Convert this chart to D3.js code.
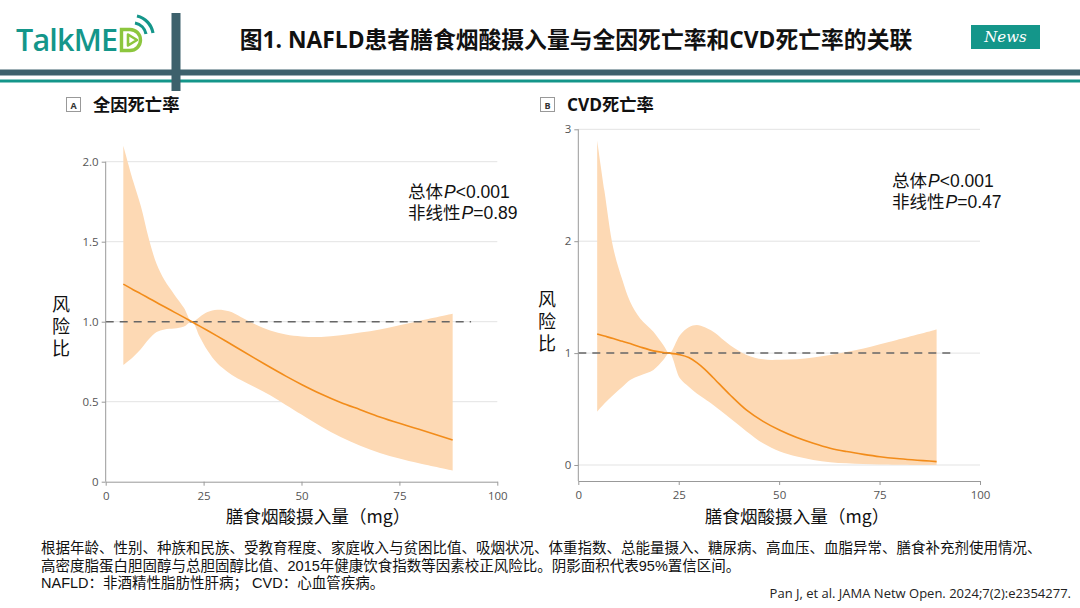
<!DOCTYPE html>
<html><head><meta charset="utf-8">
<script src="https://cdn.jsdelivr.net/npm/d3@7"></script>
<style>
html,body{margin:0;padding:0;background:#fff;}
svg{display:block;font-family:"Open Sans","Noto Sans CJK SC",sans-serif;}
</style></head>
<body>
<svg id="c" width="1080" height="608"></svg>
<script>
// ---------- data ----------
const titleText = "图1. NAFLD患者膳食烟酸摄入量与全因死亡率和CVD死亡率的关联";
const panelTitles = ["全因死亡率", "CVD死亡率"];
const panelLetters = ["A", "B"];
const xTicks = [0, 25, 50, 75, 100];
const yTicksA = [0, 0.5, 1.0, 1.5, 2.0];
const yTickLabelsA = ["0", "0.5", "1.0", "1.5", "2.0"];
const yTicksB = [0, 1, 2, 3];
const yTickLabelsB = ["0", "1", "2", "3"];
const pTextA = ["<0.001", "=0.89"];
const pTextB = ["<0.001", "=0.47"];

const xA  = [4.5, 7, 9, 11, 13, 15, 17.5, 20, 22, 24, 26, 28.5, 31.5, 34.5, 38, 42, 46, 50, 55, 60, 65, 70, 75, 80, 88.6];
const hrA = [1.235, 1.20, 1.174, 1.147, 1.12, 1.093, 1.06, 1.027, 1.0, 0.972, 0.945, 0.91, 0.867, 0.823, 0.772, 0.715, 0.66, 0.608, 0.548, 0.495, 0.45, 0.405, 0.365, 0.328, 0.26];
const hiA = [2.10, 1.88, 1.72, 1.52, 1.36, 1.26, 1.17, 1.085, 1.0, 1.03, 1.06, 1.075, 1.065, 1.03, 0.985, 0.945, 0.92, 0.908, 0.905, 0.915, 0.932, 0.952, 0.978, 1.005, 1.05];
const loA = [0.73, 0.78, 0.83, 0.89, 0.935, 0.952, 0.957, 0.97, 1.0, 0.906, 0.82, 0.74, 0.68, 0.635, 0.592, 0.54, 0.48, 0.42, 0.345, 0.28, 0.225, 0.18, 0.145, 0.115, 0.07];

const xB  = [4.7, 6.5, 8.7, 11, 12.9, 15.4, 18.7, 21.2, 22.7, 25.3, 27.5, 29.5, 31.5, 33.6, 37.8, 41.9, 46, 50.2, 54.4, 58.5, 62.7, 66.8, 71, 75.1, 79.3, 89.2];
const hrB = [1.17, 1.152, 1.13, 1.105, 1.085, 1.055, 1.02, 1.005, 1.0, 0.985, 0.96, 0.915, 0.855, 0.78, 0.626, 0.49, 0.39, 0.31, 0.245, 0.194, 0.15, 0.12, 0.095, 0.074, 0.058, 0.03];
const hiB = [2.90, 2.45, 1.94, 1.65, 1.46, 1.31, 1.19, 1.07, 1.0, 1.16, 1.23, 1.25, 1.23, 1.19, 1.07, 0.983, 0.944, 0.94, 0.944, 0.96, 0.983, 1.01, 1.04, 1.08, 1.117, 1.21];
const loB = [0.477, 0.55, 0.626, 0.70, 0.76, 0.80, 0.85, 0.94, 1.0, 0.775, 0.70, 0.64, 0.59, 0.536, 0.417, 0.30, 0.194, 0.12, 0.075, 0.045, 0.025, 0.015, 0.008, 0.005, 0.003, 0.0];

const footLines = [
  "根据年龄、性别、种族和民族、受教育程度、家庭收入与贫困比值、吸烟状况、体重指数、总能量摄入、糖尿病、高血压、血脂异常、膳食补充剂使用情况、",
  "高密度脂蛋白胆固醇与总胆固醇比值、2015年健康饮食指数等因素校正风险比。阴影面积代表95%置信区间。",
  "NAFLD：非酒精性脂肪性肝病；  CVD：心血管疾病。"
];
const refText = "Pan J, et al. JAMA Netw Open. 2024;7(2):e2354277.";

// ---------- drawing ----------
const svg = d3.select("#c");
const CJK = "'Noto Sans CJK SC','Open Sans',sans-serif";
const TIGHT = "'Liberation Sans','Noto Sans CJK SC',sans-serif";

// header bars
svg.append("rect").attr("x",0).attr("y",69.5).attr("width",1080).attr("height",6).attr("fill","#3d616c");
svg.append("rect").attr("x",0).attr("y",79.5).attr("width",1080).attr("height",3).attr("fill","#14968a");
svg.append("rect").attr("x",171.5).attr("y",13).attr("width",9).attr("height",78).attr("fill","#3d616c");

// logo
svg.append("text").attr("x",16).attr("y",51).attr("font-size",30.5).attr("font-weight",600)
  .attr("fill","#14968a").attr("font-family","'Open Sans','Noto Sans',sans-serif").attr("letter-spacing",-0.8)
  .text("TalkME");
const lg = svg.append("g").attr("transform","translate(120,28)");
lg.append("path").attr("d","M1.5,1.5 L10,1.5 A10.5,10.5 0 0 1 10,22.5 L1.5,22.5 Z")
  .attr("fill","none").attr("stroke","#8cc63e").attr("stroke-width",3.4);
lg.append("path").attr("d","M8,6.5 L17,12 L8,17.5 Z").attr("fill","none").attr("stroke","#8cc63e").attr("stroke-width",2.6).attr("stroke-linejoin","round");
lg.append("path").attr("d","M15,-5 A14,14 0 0 1 26,6").attr("fill","none").attr("stroke","#14968a").attr("stroke-width",3.2);
lg.append("path").attr("d","M17,-12 A21,21 0 0 1 33,5").attr("fill","none").attr("stroke","#14968a").attr("stroke-width",3.2);

// title
svg.append("text").attr("x",576).attr("y",48).attr("text-anchor","middle").attr("font-size",22.8)
  .attr("font-weight",700).attr("fill","#111").attr("font-family","'Open Sans','Noto Sans CJK SC',sans-serif")
  .text(titleText);

// News badge
svg.append("rect").attr("x",971).attr("y",25).attr("width",69).attr("height",24).attr("fill","#14968a");
svg.append("text").attr("x",1005.5).attr("y",42).attr("text-anchor","middle").attr("font-size",15)
  .attr("font-style","italic").attr("fill","#fff").attr("font-family","'DejaVu Serif',serif").text("News");

function panel(cfg){
  const g = svg.append("g");
  const x = d3.scaleLinear().domain([0,100]).range(cfg.xr);
  const y = d3.scaleLinear().domain(cfg.yd).range(cfg.yr);
  const yTop = y(cfg.yTicks[cfg.yTicks.length-1]);

  // gridlines
  g.selectAll(".grid").data(cfg.yTicks.filter(v => y(v) < cfg.yr[0]-1)).join("line")
    .attr("x1",cfg.xr[0]).attr("x2",cfg.xr[1]).attr("y1",d=>y(d)).attr("y2",d=>y(d))
    .attr("stroke","#e3e3e3").attr("stroke-width",1);

  const curve = d3.curveCatmullRom.alpha(0.5);
  const data = cfg.xs.map((v,i)=>({x:v, hr:cfg.hr[i], lo:cfg.lo[i], hi:cfg.hi[i]}));
  g.append("path").datum(data)
    .attr("d", d3.area().x(d=>x(d.x)).y0(d=>y(d.lo)).y1(d=>y(d.hi)).curve(curve))
    .attr("fill","#fdd9b4");
  g.append("line").attr("x1",cfg.xr[0]).attr("x2",x(93.3)).attr("y1",y(1)).attr("y2",y(1))
    .attr("stroke","#666").attr("stroke-width",1.5).attr("stroke-dasharray","8,6");
  g.append("path").datum(data)
    .attr("d", d3.line().x(d=>x(d.x)).y(d=>y(d.hr)).curve(curve))
    .attr("fill","none").attr("stroke","#f28c1a").attr("stroke-width",1.6);

  // axes
  const xa = g.append("g").attr("transform",`translate(0,${cfg.yr[0]})`)
    .call(d3.axisBottom(x).tickValues(xTicks).tickSize(4).tickSizeOuter(0).tickFormat(d3.format("d")));
  const ya = g.append("g").attr("transform",`translate(${cfg.xr[0]},0)`)
    .call(d3.axisLeft(y).tickValues(cfg.yTicks).tickSize(4).tickSizeOuter(0).tickFormat((d,i)=>cfg.yLabels[i]));
  [xa,ya].forEach(a=>{
    a.select(".domain").attr("stroke","#999");
    a.selectAll(".tick line").attr("stroke","#999");
    a.selectAll(".tick text").attr("fill","#555").attr("font-size",11.5)
      .attr("font-family","'Open Sans',sans-serif");
  });
  ya.select(".domain").attr("d",`M0,${cfg.yr[0]}V${yTop}`);
  xa.selectAll(".tick text").attr("dy","0.95em");

  // panel label
  svg.append("rect").attr("x",cfg.boxX+0.5).attr("y",97.5).attr("width",14).attr("height",14)
    .attr("fill","#fff").attr("stroke","#999").attr("stroke-width",1);
  svg.append("text").attr("x",cfg.boxX+7.5).attr("y",108.5).attr("text-anchor","middle")
    .attr("font-size",9).attr("font-weight",700).attr("fill","#333").text(cfg.letter);
  svg.append("text").attr("x",cfg.boxX+27).attr("y",111).attr("font-size",17.3).attr("font-weight",700)
    .attr("fill","#111").attr("font-family","'Open Sans','Noto Sans CJK SC',sans-serif").text(cfg.title);

  // y label
  ["风","险","比"].forEach((ch,i)=>{
    svg.append("text").attr("x",cfg.ylabX).attr("y",cfg.ylabY + i*22).attr("text-anchor","middle")
      .attr("font-size",18).attr("fill","#111").attr("font-family",TIGHT).text(ch);
  });
  // x label
  svg.append("text").attr("x",cfg.xlabX).attr("y",523).attr("text-anchor","middle")
    .attr("font-size",17.6).attr("fill","#111").attr("font-family",CJK).text("膳食烟酸摄入量（mg）");

  // P values
  [0,1].forEach(k=>{
    const t = svg.append("text").attr("x",cfg.pX).attr("y",cfg.pY + k*21).attr("font-size",17.5)
      .attr("fill","#111").attr("font-family",TIGHT);
    t.text((k===0?"总体":"非线性"));
    t.append("tspan").attr("font-style","italic").attr("dx",1).text("P");
    t.append("tspan").text(cfg.pText[k]);
  });
}

panel({xr:[105.7,497.3], yd:[0,2], yr:[481.7,161.7], yTicks:yTicksA, yLabels:yTickLabelsA,
  xs:xA, hr:hrA, hi:hiA, lo:loA, boxX:66, letter:panelLetters[0], title:panelTitles[0],
  ylabX:61, ylabY:311, xlabX:318, pX:408, pY:198, pText:pTextA});
panel({xr:[578.3,980], yd:[-0.143,3], yr:[481,129.3], yTicks:yTicksB, yLabels:yTickLabelsB,
  xs:xB, hr:hrB, hi:hiB, lo:loB, boxX:540, letter:panelLetters[1], title:panelTitles[1],
  ylabX:547, ylabY:306, xlabX:797, pX:892, pY:187, pText:pTextB});

// footnotes
footLines.forEach((t,i)=>{
  svg.append("text").attr("x",41).attr("y",553 + i*17.5).attr("font-size",14.5).attr("fill","#111")
    .attr("font-family",TIGHT).text(t);
});
svg.append("text").attr("x",1071).attr("y",598).attr("text-anchor","end").attr("font-size",13)
  .attr("fill","#222").attr("font-family","'Open Sans',sans-serif").text(refText);
</script>
</body></html>
